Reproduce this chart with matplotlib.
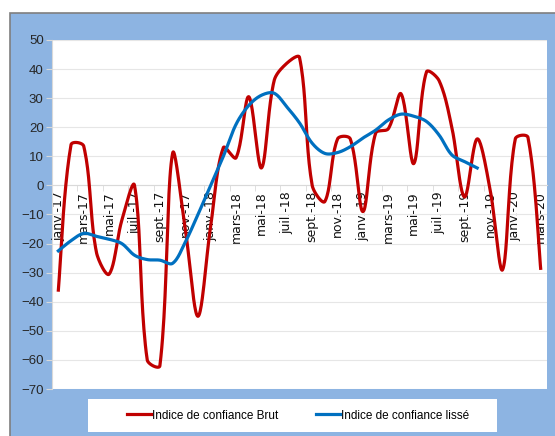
import matplotlib
matplotlib.use("Agg")
import matplotlib.pyplot as plt
from matplotlib.patches import Rectangle
import numpy as np

plt.rcParams['font.family'] = ['Liberation Sans', 'DejaVu Sans']

months = ["janv.-17", "févr.-17", "mars-17", "avr.-17", "mai-17", "juin-17", "juil.-17", "août-17",
          "sept.-17", "oct.-17", "nov.-17", "déc.-17",
          "janv.-18", "févr.-18", "mars-18", "avr.-18", "mai-18", "juin-18", "juil.-18", "août-18",
          "sept.-18", "oct.-18", "nov.-18", "déc.-18",
          "janv.-19", "févr.-19", "mars-19", "avr.-19", "mai-19", "juin-19", "juil.-19", "août-19",
          "sept.-19", "oct.-19", "nov.-19", "déc.-19",
          "janv.-20", "févr.-20", "mars-20"]

brut = [-36, 14, 13.5, -23, -30.5, -12, 0, -60, -62, 11, -15, -45,
        -14, 13, 9.5, 30.5, 6, 36, 42, 44, 0, -5.5, 16, 16,
        -9, 18, 19.5, 31.5, 7.5, 39, 36, 20, -4, 16, -1, -29,
        16, 16.5, -28.5]

lisse = [-22.5, -19, -16.5, -17.5, -18.5, -20, -24, -25.5, -25.7, -26.8, -19.5, -10,
         0, 10, 21, 27.5, 31, 31.7, 27, 21.5, 14.5, 11, 11.3, 13.3,
         16.3, 19, 22.5, 24.5, 23.8, 22, 17.3, 10.5, 8.2, 6]

legend_labels = ["Indice de confiance Brut", "Indice de confiance lissé"]

# axes size in pixels, used to smooth in screen space like Excel
AX_W, AX_H = 495, 349
X_RANGE, Y_RANGE = len(months), 120


def smooth(y, n=24):
    # Excel-like smoothed line: Bezier, tangents weighted by chord lengths (in pixels)
    y = np.asarray(y, dtype=float)
    x = np.arange(len(y), dtype=float)
    sx, sy = AX_W / X_RANGE, AX_H / Y_RANGE
    P = np.column_stack([x * sx, y * sy])
    m = len(P)
    xs, ys = [], []
    for i in range(m - 1):
        p0 = P[max(i - 1, 0)]
        p1 = P[i]
        p2 = P[i + 1]
        p3 = P[min(i + 2, m - 1)]
        d01 = np.linalg.norm(p1 - p0)
        d12 = np.linalg.norm(p2 - p1)
        d23 = np.linalg.norm(p3 - p2)
        c1 = p1 + (p2 - p0) * (d12 / (d01 + d12) / 3 if d01 > 0 else 1 / 6)
        c2 = p2 - (p3 - p1) * (d12 / (d12 + d23) / 3 if d23 > 0 else 1 / 6)
        t = np.linspace(0, 1, n)[:, None]
        pts = ((1 - t) ** 3) * p1 + 3 * ((1 - t) ** 2) * t * c1 + 3 * (1 - t) * t ** 2 * c2 + t ** 3 * p2
        xs.extend(pts[:, 0] / sx)
        ys.extend(pts[:, 1] / sy)
    return np.array(xs), np.array(ys)


fig = plt.figure(figsize=(5.55, 4.36), dpi=100)
fig.patch.set_facecolor('white')

# blue chart panel
fig.patches.append(Rectangle((10 / 555, -0.01), 1.0, 1 - 13 / 436 + 0.01, transform=fig.transFigure,
                             facecolor='#8DB4E2', edgecolor='#7F7F7F', linewidth=1.2, zorder=0))
# legend box
fig.patches.append(Rectangle((88 / 555, 1 - 432 / 436), 409 / 555, 33 / 436, transform=fig.transFigure,
                             facecolor='white', edgecolor='none', zorder=0.5))

ax = fig.add_axes([52 / 555, 1 - 389 / 436, AX_W / 555, AX_H / 436])
ax.set_zorder(2)
ax.set_facecolor('white')

bx, by = smooth(brut)
lx, ly = smooth(lisse)
ax.plot(bx, by, color='#C00000', linewidth=2.3, label=legend_labels[0], zorder=3)
ax.plot(lx, ly, color='#0070C0', linewidth=2.3, label=legend_labels[1], zorder=4)

ax.set_xlim(-0.5, len(months) - 0.5)
ax.set_ylim(-70, 50)
ax.set_yticks(np.arange(-70, 51, 10))
ax.yaxis.grid(True, color='#E6E6E6', linewidth=0.8)
ax.set_axisbelow(True)

for s in ['top', 'right']:
    ax.spines[s].set_visible(False)
ax.spines['left'].set_color('#D9D9D9')
ax.spines['bottom'].set_position(('data', 0))
ax.spines['bottom'].set_color('#D9D9D9')

ax.tick_params(axis='y', labelsize=9.5, colors='#D9D9D9', labelcolor='#262626', length=4, pad=2)
ax.set_xticks(np.arange(0, len(months), 2))
ax.set_xticklabels(months[::2], rotation=90, fontsize=9, color='#111111', family='DejaVu Sans')
ax.set_xticks(np.arange(-0.5, len(months), 2), minor=True)
ax.tick_params(axis='x', which='major', length=0, pad=4)
ax.tick_params(axis='x', which='minor', length=4, color='#D9D9D9', direction='out')

leg = fig.legend(loc='center', bbox_to_anchor=(298 / 555, 1 - 415.5 / 436), ncol=2, frameon=False,
                 fontsize=8.5, handlelength=2.0, handletextpad=0.1, columnspacing=3.2)
leg.set_zorder(3)

fig.savefig('out.png', dpi=100)
